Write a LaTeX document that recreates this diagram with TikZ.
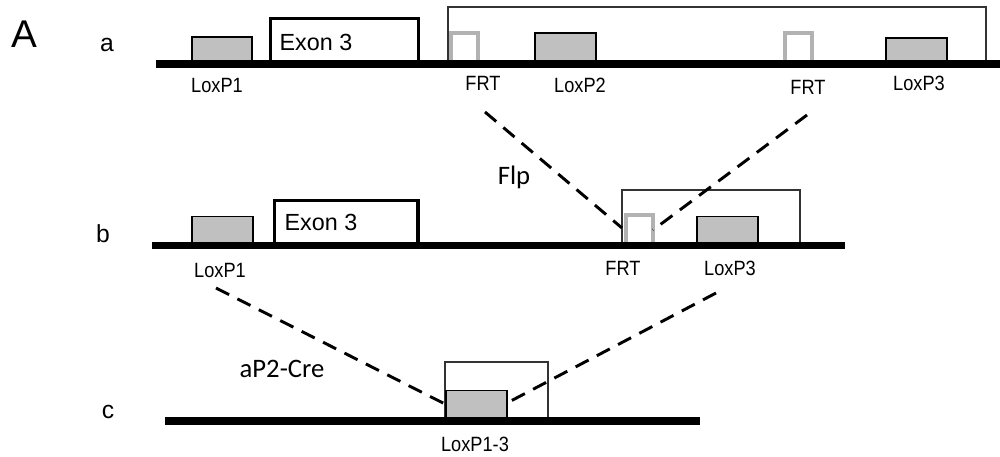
\documentclass[tikz,border=0pt]{standalone}
\usepackage{fontspec}
\setmainfont{Liberation Sans}
\newfontfamily\narrowfont[FakeStretch=0.88]{Liberation Sans}
\newfontfamily\calfont{Carlito}
\definecolor{boxgray}{HTML}{C0C0C0}
\definecolor{frtgray}{HTML}{B2B2B2}
\definecolor{cassline}{HTML}{333333}

\begin{document}
\begin{tikzpicture}[x=0.75pt,y=-0.75pt,
  chrom/.style={line width=5.6pt},
  loxbox/.style={draw=black,fill=boxgray,line width=1.1pt},
  exonbox/.style={draw=black,line width=2.3pt},
  cassette/.style={draw=cassline,line width=1pt},
  frtloop/.style={draw=frtgray,line width=2.3pt},
  cut/.style={line width=2.2pt,dash pattern=on 11pt off 7pt},
  site/.style={inner sep=0pt,font=\narrowfont\fontsize{15.5}{18}\selectfont},
  exonname/.style={inner sep=0pt,font=\fontsize{17.5}{20}\selectfont},
  rowname/.style={inner sep=0pt,font=\fontsize{18.5}{22}\selectfont},
  enzyme/.style={inner sep=0pt,font=\calfont\fontsize{20}{23}\selectfont}]
\useasboundingbox (0,0) rectangle (1000,457);
\node[inner sep=0pt,font=\fontsize{29}{32}\selectfont] (panel) at (24,34) {A};

% allele a
\node[rowname] (rowa) at (107,45) {a};
\draw[cassette] (448,64) |- (986,7) -- (986,64);
\draw[frtloop] (451,64) |- (478,33) -- (478,64);
\draw[frtloop] (785,64) |- (812,33) -- (812,64);
\draw[loxbox] (192,37) rectangle (252,64);
\draw[exonbox] (270.5,18.5) rectangle (418.5,64);
\draw[loxbox] (535,33) rectangle (596,64);
\draw[loxbox] (886,38) rectangle (947,64);
\draw[chrom] (156,64) -- (1000,64);
\node[exonname] (exona) at (316,42) {Exon 3};
\node[site] (lox1a) at (217,85) {LoxP1};
\node[site] (frt1a) at (483,83) {FRT};
\node[site] (lox2a) at (580,85) {LoxP2};
\node[site] (frt2a) at (808,87) {FRT};
\node[site] (lox3a) at (919,83) {LoxP3};

% allele b
\node[rowname] (rowb) at (103,234) {b};
\draw[cassette] (622,245) |- (800,190) -- (800,245);
\draw[frtloop] (626,245) |- (653,215) -- (653,245);
\draw[loxbox] (192,216.5) rectangle (253,245);
\draw[exonbox] (274.5,200.5) rectangle (418,245);
\draw[loxbox] (697,216.5) rectangle (758,245);
\draw[chrom] (152,245.5) -- (845,245.5);
\node[exonname] (exonb) at (321,222) {Exon 3};
\node[site] (lox1b) at (220,270) {LoxP1};
\node[site] (frtb) at (623,268) {FRT};
\node[site] (lox3b) at (730,268) {LoxP3};

% allele c
\node[rowname] (rowc) at (108,412) {c};
\draw[cassette] (445,421) |- (548,362) -- (548,421);
\draw[loxbox] (446,390.5) rectangle (507,421);
\draw[chrom] (165,421) -- (700,421);
\node[site] (lox13c) at (475,444) {LoxP1-3};

% recombination
\coordinate (flpstart1) at (485,112);
\coordinate (flpend1) at (622,228);
\coordinate (flpstart2) at (807,115);
\coordinate (flpend2) at (653,230);
\coordinate (crestart1) at (216,288);
\coordinate (creend1) at (445,404);
\coordinate (crestart2) at (716,293);
\coordinate (creend2) at (507,403);
\draw[cut] (flpstart1) -- (flpend1);
\draw[cut] (flpstart2) -- (flpend2);
\draw[cut] (crestart1) -- (creend1);
\draw[cut] (crestart2) -- (creend2);
\node[enzyme] (flp) at (514,177) {Flp};
\node[enzyme] (cre) at (282,369) {aP2-Cre};
\end{tikzpicture}
\end{document}
